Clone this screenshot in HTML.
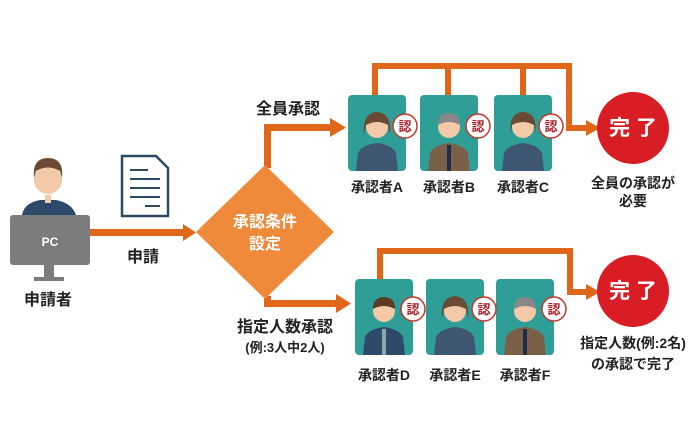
<!DOCTYPE html><html><head><meta charset="utf-8"><style>body{margin:0;background:#fff}svg{display:block}text{font-family:"Liberation Sans","Noto Sans CJK JP",sans-serif;font-weight:bold}</style></head><body>
<svg width="700" height="438" viewBox="0 0 700 438">
<!-- applicant -->
<path d="M22 215 Q24 203 40 200 L56 200 Q72 203 76 215Z" fill="#2e4a6b"/>
<rect x="45" y="195" width="6" height="8" fill="#f3c9a8"/>
<circle cx="48" cy="180" r="14" fill="#f3c9a8"/>
<path d="M34 178 Q32 158 48 158 Q64 158 62 178 L60 171 Q48 164 36 171Z" fill="#6b4a35"/>
<rect x="10" y="215" width="80" height="50" rx="3" fill="#7c7c7c"/>
<rect x="44" y="265" width="10" height="12" fill="#7c7c7c"/><rect x="34" y="277" width="30" height="4" fill="#7c7c7c"/>
<text x="50" y="246" font-size="12" fill="#fff" text-anchor="middle">PC</text>
<text x="48" y="305" font-size="16" fill="#222" text-anchor="middle">申請者</text>
<!-- document -->
<path d="M122 156 L156 156 L168 168 L168 216 L122 216Z" fill="#fff" stroke="#2d4a63" stroke-width="2.5"/>
<g stroke="#2d4a63" stroke-width="2"><line x1="130" y1="170" x2="148" y2="170"/><line x1="130" y1="179" x2="160" y2="179"/><line x1="130" y1="188" x2="160" y2="188"/><line x1="130" y1="197" x2="160" y2="197"/><line x1="145" y1="206" x2="160" y2="206"/></g>
<text x="143" y="262" font-size="16" fill="#222" text-anchor="middle">申請</text>
<!-- arrows -->
<g fill="#e0661a">
<rect x="90" y="229" width="95" height="7"/><polygon points="183,224 196,232.5 183,241"/>
<path d="M264 168 L264 124 L332 124 L332 131 L271 131 L271 168Z"/><polygon points="330,118 346,127.5 330,137"/>
<path d="M264 296 L264 307 L338 307 L338 300 L271 300 L271 296Z"/><polygon points="336,294 351,303.5 336,313"/>
</g>
<polygon points="265,165 334,232 265,299 196,232" fill="#ee8a3a"/>
<text x="265" y="227" font-size="16" fill="#fff" text-anchor="middle">承認条件</text>
<text x="265" y="249" font-size="16" fill="#fff" text-anchor="middle">設定</text>
<text x="288" y="114" font-size="16" fill="#222" text-anchor="middle">全員承認</text>
<text x="285" y="332" font-size="16" fill="#222" text-anchor="middle">指定人数承認</text>
<text x="285" y="352" font-size="13" fill="#222" text-anchor="middle" font-weight="normal">(例:3人中2人)</text>
<!-- brackets -->
<g fill="none" stroke="#e0661a" stroke-width="6">
<path d="M375 97 L375 66 L569 66 L569 128 L590 128"/><line x1="448" y1="66" x2="448" y2="97"/><line x1="523" y1="66" x2="523" y2="97"/>
<path d="M380 280 L380 251 L570 251 L570 292 L590 292"/>
</g>
<polygon points="586,120 600,128 586,136" fill="#e0661a"/>
<polygon points="586,284 600,292 586,300" fill="#e0661a"/>
<!-- cards -->
<g transform="translate(348,95)"><rect width="58" height="76" rx="4" fill="#2f9e96"/><path d="M8 76 L10 58 Q14 50 29 48 Q44 50 48 58 L50 76Z" fill="#3f5672"/><circle cx="29" cy="32" r="11" fill="#f3c9a8"/><path d="M16 40 Q14 18 29 17 Q44 18 42 40 L40 30 Q29 24 18 30Z" fill="#6b4a35"/></g>
<g transform="translate(420,95)"><rect width="58" height="76" rx="4" fill="#2f9e96"/><path d="M8 76 L10 58 Q14 50 29 48 Q44 50 48 58 L50 76Z" fill="#7a6049"/><rect x="27" y="50" width="4" height="26" fill="#1f2d4a"/><circle cx="29" cy="32" r="11" fill="#f3c9a8"/><path d="M18 30 Q18 18 29 18 Q40 18 40 30 Q29 24 18 30Z" fill="#888"/></g>
<g transform="translate(494,95)"><rect width="58" height="76" rx="4" fill="#2f9e96"/><path d="M8 76 L10 58 Q14 50 29 48 Q44 50 48 58 L50 76Z" fill="#3f5672"/><circle cx="29" cy="32" r="11" fill="#f3c9a8"/><path d="M17 38 Q14 18 29 17 Q44 18 41 38 L40 30 Q29 24 18 30Z" fill="#6b4a35"/></g>
<g transform="translate(355,279)"><rect width="58" height="76" rx="4" fill="#2f9e96"/><path d="M8 76 L10 58 Q14 50 29 48 Q44 50 48 58 L50 76Z" fill="#2e4a6b"/><rect x="27" y="50" width="4" height="26" fill="#8aa"/><circle cx="29" cy="32" r="11" fill="#f3c9a8"/><path d="M18 30 Q18 18 29 18 Q40 18 40 30 Q29 24 18 30Z" fill="#5a3b28"/></g>
<g transform="translate(426,279)"><rect width="58" height="76" rx="4" fill="#2f9e96"/><path d="M8 76 L10 58 Q14 50 29 48 Q44 50 48 58 L50 76Z" fill="#3f5672"/><circle cx="29" cy="32" r="11" fill="#f3c9a8"/><path d="M16 40 Q14 18 29 17 Q44 18 42 40 L40 30 Q29 24 18 30Z" fill="#6b4a35"/></g>
<g transform="translate(496,279)"><rect width="58" height="76" rx="4" fill="#2f9e96"/><path d="M8 76 L10 58 Q14 50 29 48 Q44 50 48 58 L50 76Z" fill="#7a6049"/><rect x="27" y="50" width="4" height="26" fill="#1f2d4a"/><circle cx="29" cy="32" r="11" fill="#f3c9a8"/><path d="M18 30 Q18 18 29 18 Q40 18 40 30 Q29 24 18 30Z" fill="#888"/></g>
<!-- seals -->
<g fill="#fff" stroke="#c0392b" stroke-width="1.5">
<circle cx="405" cy="126" r="12"/><circle cx="478" cy="126" r="12"/><circle cx="551" cy="126" r="12"/>
<circle cx="413" cy="309" r="12"/><circle cx="484" cy="309" r="12"/><circle cx="554" cy="309" r="12"/>
</g>
<g font-size="13" fill="#b0202a" text-anchor="middle">
<text x="405" y="131">認</text><text x="478" y="131">認</text><text x="551" y="131">認</text>
<text x="413" y="314">認</text><text x="484" y="314">認</text><text x="554" y="314">認</text>
</g>
<g font-size="14" fill="#222" text-anchor="middle">
<text x="377" y="192">承認者A</text><text x="449" y="192">承認者B</text><text x="523" y="192">承認者C</text>
<text x="384" y="380">承認者D</text><text x="455" y="380">承認者E</text><text x="525" y="380">承認者F</text>
</g>
<!-- done -->
<circle cx="633" cy="128" r="36" fill="#d81e24"/><text x="633" y="135" font-size="21" fill="#fff" text-anchor="middle">完 了</text>
<circle cx="633" cy="291" r="36" fill="#d81e24"/><text x="633" y="298" font-size="21" fill="#fff" text-anchor="middle">完 了</text>
<g font-size="14" fill="#222" text-anchor="middle">
<text x="633" y="188">全員の承認が</text><text x="633" y="206">必要</text>
<text x="633" y="348">指定人数(例:2名)</text><text x="633" y="369">の承認で完了</text>
</g>
</svg></body></html>
